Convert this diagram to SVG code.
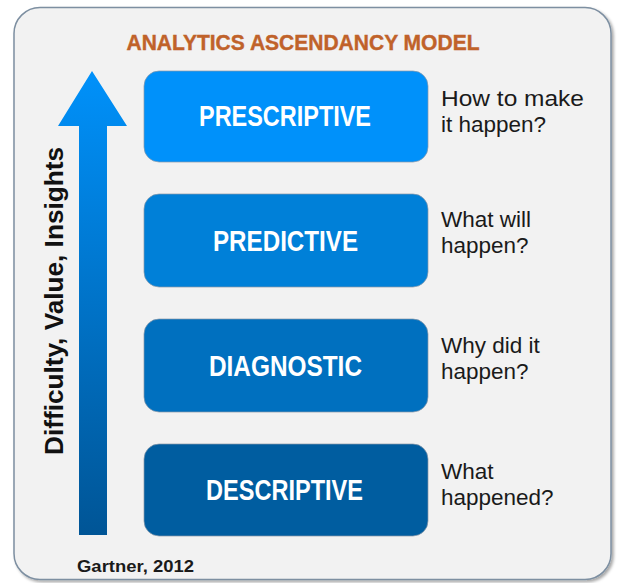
<svg xmlns="http://www.w3.org/2000/svg" width="622" height="583" viewBox="0 0 622 583">
<defs>
<linearGradient id="arrowGrad" x1="0" y1="71" x2="0" y2="535" gradientUnits="userSpaceOnUse">
<stop offset="0" stop-color="#0091FA"/>
<stop offset="1" stop-color="#005596"/>
</linearGradient>
<filter id="shadow" x="-5%" y="-5%" width="110%" height="110%">
<feDropShadow dx="2" dy="2" stdDeviation="1.5" flood-color="#000" flood-opacity="0.35"/>
</filter>
</defs>
<style>
.box{stroke:#8a99a8;stroke-width:1;stroke-opacity:0.7}
.lbl{font-family:"Liberation Sans",Arial,sans-serif;font-weight:bold;font-size:29px;fill:#ffffff}
.q{font-family:"Liberation Sans",Arial,sans-serif;font-size:22.5px;fill:#1a1a1a}
</style>
<rect x="0" y="0" width="622" height="583" fill="#ffffff"/>
<rect x="14" y="7.5" width="597" height="572" rx="26" fill="#F2F2F2" stroke="#7d8fa1" stroke-width="1.5" filter="url(#shadow)"/>
<text x="303" y="50" text-anchor="middle" font-family="Liberation Sans, Arial, sans-serif" font-weight="bold" font-size="22" fill="#C0622A" stroke="#C0622A" stroke-width="0.4" textLength="353" lengthAdjust="spacingAndGlyphs">ANALYTICS ASCENDANCY MODEL</text>
<g id="axis">
<path d="M92 71 L127 126 L107 126 L107 535 L79 535 L79 126 L58 126 Z" fill="url(#arrowGrad)"/>
<text transform="translate(63 301) rotate(-90)" text-anchor="middle" font-family="Liberation Sans, Arial, sans-serif" font-weight="bold" font-size="25" fill="#111111" textLength="308" lengthAdjust="spacingAndGlyphs">Difficulty, Value, Insights</text>
</g>
<g id="prescriptive">
<rect class="box" x="144" y="71" width="284" height="91" rx="15" fill="#0091FA"/>
<text class="lbl" x="285" y="126" text-anchor="middle" textLength="172" lengthAdjust="spacingAndGlyphs">PRESCRIPTIVE</text>
<text class="q" x="441" y="106" textLength="143" lengthAdjust="spacingAndGlyphs">How to make</text>
<text class="q" x="441" y="132">it happen?</text>
</g>
<g id="predictive">
<rect class="box" x="144" y="194" width="284" height="93" rx="15" fill="#0080D8"/>
<text class="lbl" x="285.5" y="251" text-anchor="middle" textLength="145" lengthAdjust="spacingAndGlyphs">PREDICTIVE</text>
<text class="q" x="441" y="227">What will</text>
<text class="q" x="441" y="253">happen?</text>
</g>
<g id="diagnostic">
<rect class="box" x="144" y="319" width="284" height="93" rx="15" fill="#0070BF"/>
<text class="lbl" x="285.5" y="376" text-anchor="middle" textLength="153" lengthAdjust="spacingAndGlyphs">DIAGNOSTIC</text>
<text class="q" x="441" y="353">Why did it</text>
<text class="q" x="441" y="379">happen?</text>
</g>
<g id="descriptive">
<rect class="box" x="144" y="444" width="284" height="92" rx="15" fill="#005DA0"/>
<text class="lbl" x="284.5" y="500" text-anchor="middle" textLength="157" lengthAdjust="spacingAndGlyphs">DESCRIPTIVE</text>
<text class="q" x="441" y="479">What</text>
<text class="q" x="441" y="505">happened?</text>
</g>
<g id="source">
<text x="77" y="572" font-family="Liberation Sans, Arial, sans-serif" font-weight="bold" font-size="16" fill="#1a1a1a" textLength="117" lengthAdjust="spacingAndGlyphs">Gartner, 2012</text>
</g>
<g id="connectors"></g>
</svg>
